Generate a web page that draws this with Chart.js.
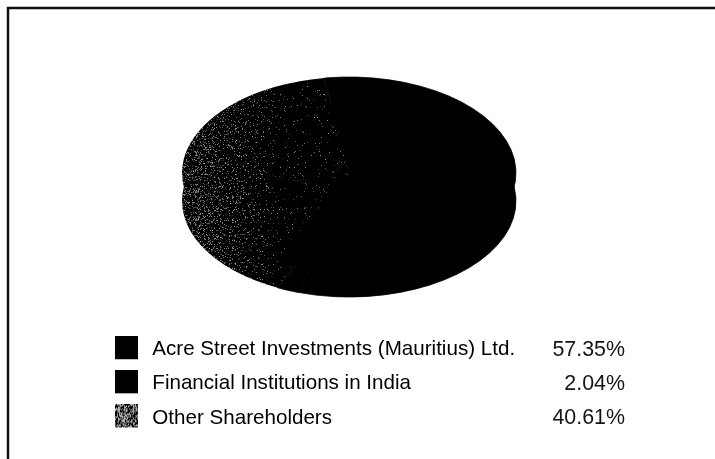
<!DOCTYPE html>
<html><head><meta charset="utf-8">
<style>html,body{margin:0;padding:0;background:#fff}#w{position:relative;width:715px;height:459px;overflow:hidden}canvas#c{position:absolute;left:0;top:0}</style>
<script src="https://cdn.jsdelivr.net/npm/chart.js@4"></script>
</head><body><div id="w"><canvas id="c" width="715" height="459"></canvas></div>
<script>
const categories = ["Acre Street Investments (Mauritius) Ltd.", "Financial Institutions in India", "Other Shareholders"];
const shares = [57.35, 2.04, 40.61];
const solidInk = "#000000";
const textInk = "#141414";
const fontSize = 20.6;
const shareFontSize = 21.4;

function hash(x, y) {
  let h = (x * 374761393 + y * 668265263) | 0;
  h = Math.imul(h ^ (h >>> 13), 1274126177);
  return ((h ^ (h >>> 16)) >>> 0) / 4294967296;
}
function stipple(w, h, density, dot) {
  const t = document.createElement('canvas');
  t.width = w; t.height = h;
  const g = t.getContext('2d');
  g.fillStyle = solidInk; g.fillRect(0, 0, w, h);
  g.fillStyle = dot;
  for (let y = 0; y < h; y++) for (let x = 0; x < w; x++)
    if (hash(x, y) < density(x, y)) g.fillRect(x, y, 1, 1);
  return t;
}
const texture = stipple(715, 800, x => Math.max(0.015, 0.2 - 0.185 * (x - 181) / 100), '#8e8e8e');
const patternFill = document.createElement('canvas').getContext('2d').createPattern(texture, 'no-repeat');

function swatch(fill) {
  const t = document.createElement('canvas');
  t.width = 27; t.height = 27;
  const g = t.getContext('2d');
  if (fill === 'stipple') {
    g.drawImage(stipple(23, 23, () => 0.45, '#a8a8a8'), 0, 0);
  } else { g.fillStyle = solidInk; g.fillRect(0, 0, 23, 23); }
  return t;
}
const legendSwatches = [swatch('solid'), swatch('solid'), swatch('stipple')];

const cx = 349, cy = 173, rx = 167, ry = 96, depth = 28;
function squash(ctx, dy) {
  ctx.translate(cx, cy + dy);
  ctx.scale(1, ry / rx);
  ctx.translate(-cx, -cy);
}
const pie3d = {
  id: 'pie3d',
  beforeDatasetDraw(chart, args) {
    const ctx = chart.ctx;
    ctx.save(); squash(ctx, depth); args.meta.controller.draw(); ctx.restore();
    ctx.save(); squash(ctx, 0);
  },
  afterDatasetDraw(chart) { chart.ctx.restore(); }
};
const placeLegend = {
  id: 'placeLegend',
  afterLayout(chart) {
    const l = chart.legend;
    l.left = 101.5; l.top = 325.9; l.right = 715; l.bottom = 459;
    l.width = 613.5; l.height = 133.1;
  },
  afterDraw(chart) {
    const ctx = chart.ctx, boxes = chart.legend.legendHitBoxes;
    ctx.save();
    ctx.font = shareFontSize + 'px "Liberation Sans"';
    ctx.fillStyle = textInk;
    ctx.textAlign = 'right';
    ctx.textBaseline = 'middle';
    shares.forEach((v, i) => ctx.fillText(v.toFixed(2) + '%', 625, boxes[i].top + boxes[i].height / 2));
    ctx.restore();
  }
};
const frame = {
  id: 'frame',
  beforeDraw(chart) {
    const ctx = chart.ctx;
    ctx.save();
    ctx.strokeStyle = '#111';
    ctx.lineWidth = 2.5;
    ctx.beginPath();
    ctx.moveTo(8, 459); ctx.lineTo(8, 8); ctx.lineTo(715, 8);
    ctx.stroke();
    ctx.restore();
  }
};
new Chart(document.getElementById('c'), {
  type: 'pie',
  data: { labels: categories, datasets: [{
    data: shares,
    backgroundColor: [solidInk, solidInk, patternFill],
    borderColor: [solidInk, solidInk, 'rgba(0,0,0,0)'],
    borderWidth: 1,
    radius: rx
  }]},
  plugins: [frame, pie3d, placeLegend],
  options: {
    responsive: false,
    animation: false,
    rotation: -8.5,
    layout: { padding: { left: 0, top: 0, right: 715 - 2 * cx, bottom: 459 - 2 * cy } },
    plugins: {
      tooltip: { enabled: false },
      legend: {
        position: 'chartArea',
        align: 'start',
        labels: {
          usePointStyle: true,
          pointStyleWidth: 27,
          boxHeight: 23,
          padding: 13.5,
          color: textInk,
          font: { family: '"Liberation Sans"', size: fontSize },
          generateLabels: () => categories.map((t, i) => ({
            text: t, pointStyle: legendSwatches[i], fillStyle: solidInk, lineWidth: 0, hidden: false, index: i
          }))
        }
      }
    }
  }
});
</script></body></html>
